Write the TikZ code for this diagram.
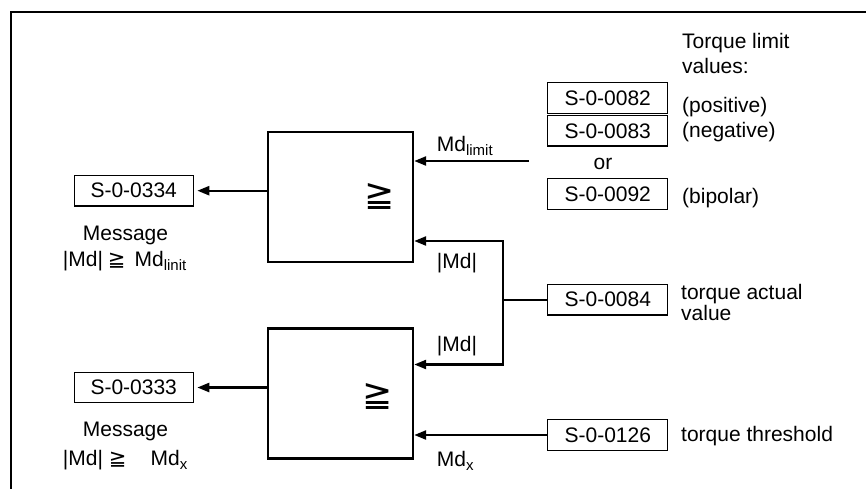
\documentclass[tikz,border=0pt]{standalone}
\usepackage{fontspec}
\setmainfont{Liberation Sans}
\newfontfamily\dvs{DejaVu Sans}
\usetikzlibrary{arrows.meta}
\newcommand{\fs}{\fontsize{21}{25}\selectfont}
\newcommand{\sbs}[1]{\raisebox{-4pt}{\fontsize{15}{15}\selectfont #1}}
\newcommand{\smallgeq}{{\dvs\fontsize{21}{21}\selectfont ≧}}
\tikzset{
  reg/.style={draw, line width=1.2pt, minimum width=120pt, minimum height=30.5pt, inner sep=0pt, font=\fs},
  cmp/.style={draw, line width=2.4pt, minimum width=145pt, minimum height=130pt, inner sep=0pt},
  tip/.tip={Triangle[length=12pt,width=9pt]},
  sig/.style={line width=2.4pt, -tip},
  wire/.style={line width=2pt},
  lbl/.style={anchor=base west, inner sep=0pt, font=\fs},
  ctr/.style={anchor=base, inner sep=0pt, font=\fs},
  geq/.style={inner sep=0pt, font=\dvs\fontsize{36}{36}\selectfont},
}
\begin{document}
\begin{tikzpicture}[x=1pt,y=-1pt]
\useasboundingbox (0,0) rectangle (866,488);
% frame
\draw[line width=2.3pt] (11.2,490) -- (11.2,12.2) -- (868,12.2);

% comparators
\node[cmp] (cmpU) at (340.5,197) {};
\node[cmp] (cmpL) at (340.5,393.5) {};
\node[geq] (gU) at (380,197) {≧};
\node[geq] (gL) at (378,396) {≧};

% registers
\node[reg, minimum width=119pt] (r334) at (133.7,190.7) {S-0-0334};
\node[reg, minimum width=119pt] (r333) at (133.7,387.5) {S-0-0333};
\node[reg] (r82) at (607.7,98) {S-0-0082};
\node[reg] (r83) at (607.7,130.8) {S-0-0083};
\node[reg] (r92) at (607.7,194) {S-0-0092};
\node[reg] (r84) at (607.8,299.7) {S-0-0084};
\node[reg] (r126) at (607.8,435) {S-0-0126};

% connectors
\coordinate (mlim) at (529,161);
\coordinate (jU) at (503,241);
\coordinate (jL) at (503,364.5);
\draw[sig] (cmpU.west |- r334.east) -- ([xshift=3.5pt]r334.east);
\draw[sig] (cmpL.west |- r333.east) -- ([xshift=3.5pt]r333.east);
\draw[sig] (mlim) -- (cmpU.east |- mlim);
\draw[line width=2.4pt, tip-tip, line join=miter] (cmpU.east |- jU) -- (jU) -- (jL) -- (cmpL.east |- jL);
\draw[wire] (jU |- r84.west) -- (r84.west);
\draw[sig] (r126.west) -- (cmpL.east |- r126.west);

% right texts
\node[lbl] (t1) at (682,48.3) {Torque limit};
\node[lbl] (t2) at (682,73.3) {values:};
\node[lbl] (tp) at (682,112) {(positive)};
\node[lbl] (tn) at (682,137) {(negative)};
\node[ctr] (tor) at (603,169) {or};
\node[lbl] (tb) at (682,203.5) {(bipolar)};
\node[lbl] (ta1) at (681,299.5) {torque actual};
\node[lbl] (ta2) at (681,320.5) {value};
\node[lbl] (tt) at (681,441.5) {torque threshold};

% signal labels
\node[lbl] (lml) at (436.7,151) {Md\sbs{limit}};
\node[lbl] (lmu) at (436.7,268) {|Md|};
\node[lbl] (lmd) at (436.7,351.7) {|Md|};
\node[lbl] (lmx) at (436.7,466.7) {Md\sbs{x}};

% messages
\node[ctr] (m1) at (125.5,240.7) {Message};
\node[lbl] (m1b) at (62.7,266.7) {|Md|\hspace{5pt}\smallgeq\hspace{9pt}Md\sbs{linit}};
\node[ctr] (m2) at (125.5,436.7) {Message};
\node[lbl] (m2b) at (62.7,465) {|Md|\hspace{6pt}\smallgeq\hspace{24pt}Md\sbs{x}};
\end{tikzpicture}
\end{document}
